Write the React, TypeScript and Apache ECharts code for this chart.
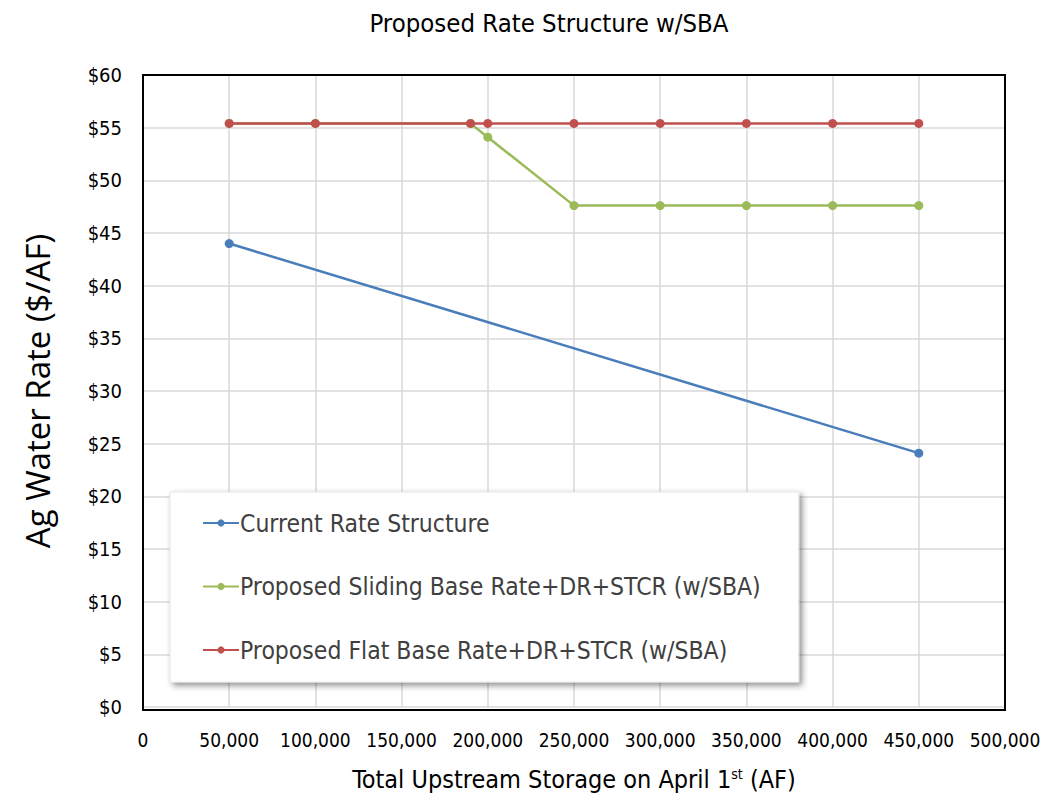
import React, { useEffect, useRef } from "react";
import * as echarts from "echarts";

const FONT = "'Liberation Sans Narrow', 'DejaVu Sans Condensed', 'Open Sans', sans-serif";
const WIDE_FONT = "'Open Sans', 'DejaVu Sans', sans-serif";

const xTicks = [0, 50000, 100000, 150000, 200000, 250000, 300000, 350000, 400000, 450000, 500000];

const currentX = [50000, 450000];
const currentY = [44.0, 24.1];

const slidingX = [50000, 100000, 190000, 200000, 250000, 300000, 350000, 400000, 450000];
const slidingY = [55.4, 55.4, 55.4, 54.1, 47.6, 47.6, 47.6, 47.6, 47.6];

const flatX = [50000, 100000, 190000, 200000, 250000, 300000, 350000, 400000, 450000];
const flatY = [55.4, 55.4, 55.4, 55.4, 55.4, 55.4, 55.4, 55.4, 55.4];

const seriesNames = [
  "Current Rate Structure",
  "Proposed Sliding Base Rate+DR+STCR (w/SBA)",
  "Proposed Flat Base Rate+DR+STCR (w/SBA)",
];
const seriesColors = ["#4a7ebb", "#9bbb59", "#c0504d"];

const pairs = (xs: number[], ys: number[]) => xs.map((x, i) => [x, ys[i]]);

// plot-area frame
const GRID = { left: 143, right: 42, top: 75, bottom: 87 };
const W = 1047;
const H = 797;

export default function App() {
  const ref = useRef<HTMLDivElement>(null);

  useEffect(() => {
    if (!ref.current) return;
    const chart = echarts.init(ref.current, undefined, { renderer: "svg" });
    const datasets = [
      pairs(currentX, currentY),
      pairs(slidingX, slidingY),
      pairs(flatX, flatY),
    ];
    chart.setOption({
      animation: false,
      backgroundColor: "#ffffff",
      textStyle: { fontFamily: FONT },
      title: {
        text: "Proposed Rate Structure w/SBA",
        left: 544,
        textAlign: "center",
        top: 5,
        textStyle: { fontFamily: FONT, fontSize: 25.5, fontWeight: "normal", color: "#000" },
      },
      grid: {
        left: GRID.left,
        right: GRID.right,
        top: GRID.top,
        bottom: GRID.bottom,
      },
      graphic: [
        {
          type: "rect",
          z: 100,
          silent: true,
          shape: {
            x: GRID.left,
            y: GRID.top,
            width: W - GRID.left - GRID.right,
            height: H - GRID.top - GRID.bottom,
          },
          style: { fill: "none", stroke: "#000", lineWidth: 2 },
        },
      ],
      legend: {
        orient: "vertical",
        left: 170,
        top: 492,
        data: seriesNames,
        itemWidth: 36,
        itemHeight: 9,
        itemGap: 33.5,
        padding: [16, 38, 17, 32],
        backgroundColor: "#ffffff",
        borderColor: "#e6e6e6",
        borderWidth: 1,
        shadowColor: "rgba(0,0,0,0.45)",
        shadowBlur: 6,
        shadowOffsetX: 3,
        shadowOffsetY: 3,
        z: 20,
        textStyle: {
          fontFamily: FONT,
          fontSize: 24.5,
          lineHeight: 30,
          color: "#404040",
          padding: [0, 0, 0, -4],
        },
      },
      xAxis: {
        type: "value",
        min: 0,
        max: 500000,
        interval: 50000,
        axisLine: { show: false },
        axisTick: { show: false },
        axisLabel: {
          margin: 23,
          fontSize: 19,
          color: "#000",
          fontFamily: FONT,
          formatter: (v: number) => (xTicks.includes(v) ? v.toLocaleString("en-US") : ""),
        },
        splitLine: { show: true, lineStyle: { color: "#d9d9d9", width: 1.5 } },
        name: "Total Upstream Storage on April 1{sup|st} (AF)",
        nameLocation: "middle",
        nameGap: 60,
        nameTextStyle: {
          fontFamily: FONT,
          fontSize: 25,
          color: "#000",
          rich: {
            sup: { fontFamily: FONT, fontSize: 14, color: "#000", verticalAlign: "top", padding: [0, 0, 10, 0] },
          },
        },
      },
      yAxis: {
        type: "value",
        min: 0,
        max: 60,
        interval: 5,
        axisLine: { show: false },
        axisTick: { show: false },
        axisLabel: {
          margin: 21,
          fontSize: 20,
          color: "#000",
          fontFamily: FONT,
          formatter: (v: number) => "$" + v,
        },
        splitLine: { show: true, lineStyle: { color: "#d9d9d9", width: 1.5 } },
        name: "Ag Water Rate ($/AF)",
        nameLocation: "middle",
        nameGap: 89,
        nameTextStyle: { fontFamily: WIDE_FONT, fontSize: 33, color: "#000" },
      },
      series: seriesNames.map((name, i) => ({
        name,
        type: "line",
        data: datasets[i],
        color: seriesColors[i],
        symbol: "circle",
        symbolSize: 9,
        lineStyle: { width: 2.5, color: seriesColors[i] },
        itemStyle: { color: seriesColors[i] },
        z: 2 + i,
      })),
    });
    return () => chart.dispose();
  }, []);

  return (
    <div
      ref={ref}
      style={{ position: "fixed", left: 0, top: 0, width: W, height: H }}
    />
  );
}
